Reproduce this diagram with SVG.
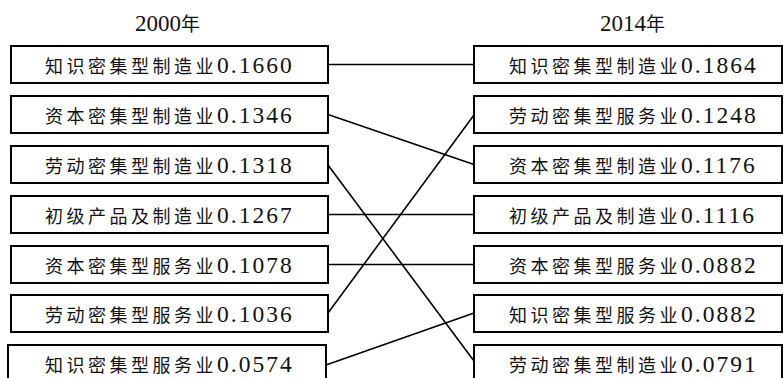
<svg xmlns="http://www.w3.org/2000/svg" width="784" height="378" viewBox="0 0 784 378">
<style>
.box{fill:#fff;stroke:#000;stroke-width:2}
.lbl{font-family:"Liberation Serif","Noto Sans CJK SC",serif;font-size:23.5px;letter-spacing:2px;fill:#111}
.cj{font-family:"Noto Sans CJK SC",sans-serif;font-size:18px;letter-spacing:3.5px}
.hd{font-family:"Liberation Serif","Noto Sans CJK SC",serif;font-size:23px;fill:#111}
.hdc{font-family:"Noto Sans CJK SC",serif;font-size:19px}
.conn line{stroke:#000;stroke-width:1.6;fill:none}
</style>
<rect width="784" height="378" fill="#fff"/>
<text class="hd" x="135" y="31">2000<tspan class="hdc">年</tspan></text>
<text class="hd" x="600" y="31">2014<tspan class="hdc">年</tspan></text>
<g class="conn">
<line x1="328" y1="64.5" x2="474" y2="64.5"/>
<line x1="328" y1="114.5" x2="474" y2="164.5"/>
<line x1="328" y1="165" x2="474" y2="361"/>
<line x1="328" y1="214.5" x2="474" y2="214.5"/>
<line x1="328" y1="264.5" x2="474" y2="264.5"/>
<line x1="328" y1="313" x2="474" y2="115"/>
<line x1="326" y1="365" x2="474" y2="313"/>
</g>
<g id="L1"><rect class="box" x="11" y="46" width="317" height="37"/><text class="lbl" x="45" y="73"><tspan class="cj">知识密集型制造业</tspan>0.1660</text></g>
<g id="L2"><rect class="box" x="11" y="96" width="317" height="37"/><text class="lbl" x="45" y="123"><tspan class="cj">资本密集型制造业</tspan>0.1346</text></g>
<g id="L3"><rect class="box" x="11" y="146" width="317" height="37"/><text class="lbl" x="45" y="173"><tspan class="cj">劳动密集型制造业</tspan>0.1318</text></g>
<g id="L4"><rect class="box" x="11" y="196" width="317" height="37"/><text class="lbl" x="45" y="223"><tspan class="cj">初级产品及制造业</tspan>0.1267</text></g>
<g id="L5"><rect class="box" x="11" y="246" width="317" height="37"/><text class="lbl" x="45" y="273"><tspan class="cj">资本密集型服务业</tspan>0.1078</text></g>
<g id="L6"><rect class="box" x="11" y="295" width="317" height="37"/><text class="lbl" x="45" y="322"><tspan class="cj">劳动密集型服务业</tspan>0.1036</text></g>
<g id="L7"><rect class="box" x="8" y="345" width="318" height="37"/><text class="lbl" x="45" y="372"><tspan class="cj">知识密集型服务业</tspan>0.0574</text></g>
<g id="R1"><rect class="box" x="474" y="46" width="308" height="37"/><text class="lbl" x="509" y="73"><tspan class="cj">知识密集型制造业</tspan>0.1864</text></g>
<g id="R2"><rect class="box" x="474" y="96" width="308" height="37"/><text class="lbl" x="509" y="123"><tspan class="cj">劳动密集型服务业</tspan>0.1248</text></g>
<g id="R3"><rect class="box" x="474" y="146" width="308" height="37"/><text class="lbl" x="509" y="173"><tspan class="cj">资本密集型制造业</tspan>0.1176</text></g>
<g id="R4"><rect class="box" x="474" y="196" width="308" height="37"/><text class="lbl" x="509" y="223"><tspan class="cj">初级产品及制造业</tspan>0.1116</text></g>
<g id="R5"><rect class="box" x="474" y="246" width="308" height="37"/><text class="lbl" x="509" y="273"><tspan class="cj">资本密集型服务业</tspan>0.0882</text></g>
<g id="R6"><rect class="box" x="474" y="295" width="308" height="37"/><text class="lbl" x="509" y="322"><tspan class="cj">知识密集型服务业</tspan>0.0882</text></g>
<g id="R7"><rect class="box" x="474" y="345" width="308" height="37"/><text class="lbl" x="509" y="372"><tspan class="cj">劳动密集型制造业</tspan>0.0791</text></g>
</svg>
